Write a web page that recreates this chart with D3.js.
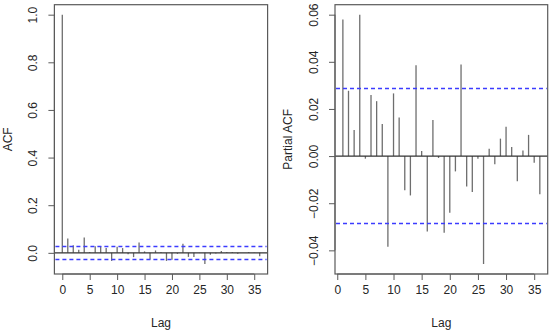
<!DOCTYPE html>
<html><head><meta charset="utf-8">
<script src="https://cdn.jsdelivr.net/npm/d3@7"></script>
<style>body{margin:0;background:#fff}svg{display:block}text{font-family:"Liberation Sans",Arial,sans-serif}</style>
</head><body><svg id="c" width="550" height="331"></svg>
<script>
const acfLags = d3.range(0, 37);
const acfValues = [1.0, 0.060, 0.032, 0.013, 0.064, 0.004, 0.028, 0.028, 0.020, -0.034,
  0.026, 0.020, -0.006, -0.018, 0.043, 0.006, -0.028, 0.010, 0.004, -0.034,
  -0.029, -0.004, 0.038, -0.017, -0.018, -0.001, -0.047, -0.008, -0.003, 0.008,
  0.003, 0.003, -0.004, 0.000, 0.004, 0.001, -0.014];
const pacfLags = d3.range(1, 37);
const pacfValues = [0.0579, 0.0277, 0.0111, 0.0600, -0.0011, 0.0259, 0.0233, 0.0136, -0.0385, 0.0266,
  0.0164, -0.0145, -0.0167, 0.0385, 0.0022, -0.0320, 0.0153, -0.0008, -0.0325, -0.0240,
  -0.0065, 0.0389, -0.0129, -0.0152, -0.0011, -0.0458, 0.0031, -0.0035, 0.0074, 0.0124,
  0.0039, -0.0107, 0.0024, 0.0090, -0.0028, -0.0162];
const ciBound = 0.0285;
const xTicks = [0, 5, 10, 15, 20, 25, 30, 35];
const acfYTicks = [0.0, 0.2, 0.4, 0.6, 0.8, 1.0];
const pacfYTicks = [-0.04, -0.02, 0.00, 0.02, 0.04, 0.06];

const svg = d3.select("#c");
const boxColor = "#5a5a5a", spikeColor = "#6e6e6e", textColor = "#262626", ciColor = "#3c3cff";

function ext(lo, hi) { const r = hi - lo; return [lo - 0.04 * r, hi + 0.04 * r]; }

function panel(opt) {
  const {left, right, top, bottom, lags, vals, yTicks, yFmt, ylab, labX, tickLabX} = opt;
  const x = d3.scaleLinear().domain(ext(d3.min(lags), d3.max(lags))).range([left, right]);
  const ylo = Math.min(d3.min(vals), -ciBound), yhi = Math.max(d3.max(vals), ciBound);
  const y = d3.scaleLinear().domain(ext(ylo, yhi)).range([bottom, top]);
  const g = svg.append("g");
  // spikes
  g.append("g").selectAll("line").data(lags).join("line")
    .attr("x1", d => x(d)).attr("x2", d => x(d))
    .attr("y1", y(0)).attr("y2", (d, i) => y(vals[i]))
    .attr("stroke", spikeColor).attr("stroke-width", 1.3);
  // zero line
  g.append("line").attr("x1", left).attr("x2", right).attr("y1", y(0)).attr("y2", y(0))
    .attr("stroke", "#333").attr("stroke-width", 1.1);
  // box
  g.append("rect").attr("x", left).attr("y", top).attr("width", right - left).attr("height", bottom - top)
    .attr("fill", "none").attr("stroke", boxColor).attr("stroke-width", 1.2);
  // CI lines
  g.append("g").selectAll("line").data([ciBound, -ciBound]).join("line")
    .attr("x1", left + 1).attr("x2", right - 1)
    .attr("y1", d => Math.floor(y(d)) + 0.5).attr("y2", d => Math.floor(y(d)) + 0.5)
    .attr("stroke", ciColor).attr("stroke-width", 1.4)
    .attr("stroke-dasharray", "4,3");
  // x axis
  const xa = g.append("g").attr("transform", `translate(0,${bottom})`)
    .call(d3.axisBottom(x).tickValues(xTicks).tickSize(6).tickPadding(5).tickFormat(d3.format("d")));
  xa.select(".domain").attr("d", `M${x(xTicks[0])},0H${x(xTicks[xTicks.length-1])}`).attr("stroke", boxColor);
  xa.selectAll(".tick line").attr("stroke", boxColor);
  xa.selectAll("text").attr("font-size", 12).attr("fill", textColor);
  // y axis
  const ya = g.append("g").attr("transform", `translate(${left},0)`)
    .call(d3.axisLeft(y).tickValues(yTicks).tickSize(6).tickFormat(yFmt));
  ya.select(".domain").attr("d", `M0,${y(yTicks[0])}V${y(yTicks[yTicks.length-1])}`).attr("stroke", boxColor);
  ya.selectAll(".tick line").attr("stroke", boxColor);
  ya.selectAll("text").attr("font-size", 12).attr("fill", textColor)
    .attr("x", null).attr("dy", null).attr("text-anchor", "middle")
    .attr("transform", `translate(${tickLabX - left},0) rotate(-90)`);
  // labels
  svg.append("text").attr("x", (left + right) / 2).attr("y", 327).attr("text-anchor", "middle")
    .attr("font-size", 12).attr("fill", textColor).text("Lag");
  svg.append("text").attr("transform", `translate(${labX},${(top + bottom) / 2}) rotate(-90)`)
    .attr("text-anchor", "middle").attr("font-size", 12).attr("fill", textColor).text(ylab);
}

panel({left: 54.4, right: 267.6, top: 4.7, bottom: 274, lags: acfLags, vals: acfValues,
  yTicks: acfYTicks, yFmt: d3.format(".1f"), ylab: "ACF", labX: 12, tickLabX: 37});
panel({left: 335, right: 547.7, top: 4.7, bottom: 274, lags: pacfLags, vals: pacfValues,
  yTicks: pacfYTicks, yFmt: d3.format(".2f"), ylab: "Partial ACF", labX: 292, tickLabX: 318});
</script></body></html>
